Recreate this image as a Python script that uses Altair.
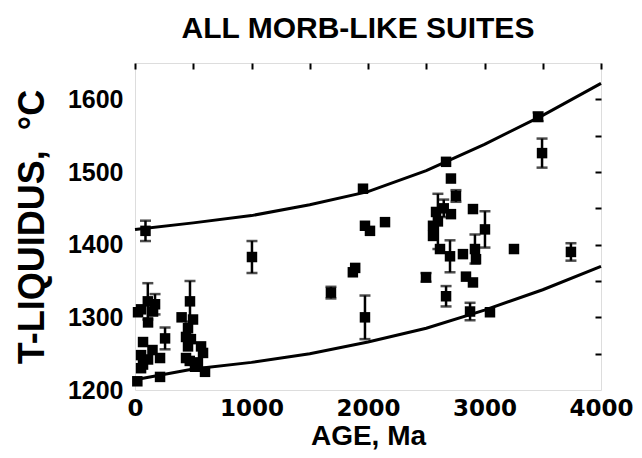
import altair as alt
import pandas as pd

TITLE = "ALL MORB-LIKE SUITES"
X_TITLE = "AGE, Ma"
Y_TITLE = "T-LIQUIDUS,\u00a0 °C"

# envelope curves
curve_age = [0, 500, 1000, 1500, 2000, 2500, 3000, 3500, 4000]
upper_temp = [1421, 1430, 1440, 1455, 1473, 1502, 1538, 1578, 1622]
lower_temp = [1214, 1229, 1238, 1250, 1266, 1285, 1310, 1338, 1370]

# data points (age Ma, T-liquidus C, half error bar; 0 = no error bar)
ages = [20, 26, 52, 110, 172, 155, 112, 69, 258, 52, 112, 215, 52, 215, 69, 150, 90,
        472, 400, 498, 438, 455, 584, 567, 438, 515, 601, 455, 470, 480, 540,
        1004, 1682, 1870, 1890, 1957, 1974, 2017, 2146, 1974,
        2670, 2712, 2755, 2600, 2584, 2712, 2901, 2558, 2558, 3004, 2618, 2704, 2815,
        2918, 2927, 2498, 2841, 2901, 2670, 2876, 3047, 3460, 3494, 3253, 3742, 2650]
temps = [1212, 1307, 1311, 1322, 1318, 1308, 1293, 1266, 1271, 1248, 1242, 1244, 1230, 1218, 1235, 1255, 1419,
         1322, 1300, 1297, 1273, 1260, 1251, 1260, 1244, 1232, 1225, 1285, 1240, 1270, 1238,
         1383, 1334, 1362, 1368, 1477, 1426, 1419, 1431, 1300,
         1514, 1491, 1467, 1432, 1445, 1442, 1449, 1426, 1412, 1421, 1394, 1384, 1387,
         1394, 1380, 1355, 1356, 1348, 1329, 1308, 1307, 1576, 1526, 1394, 1390, 1450]
errs = [0, 0, 0, 25, 14, 0, 0, 0, 15, 0, 0, 0, 0, 0, 0, 0, 14,
        28, 0, 0, 0, 0, 0, 0, 0, 0, 0, 0, 0, 0, 0,
        22, 8, 0, 0, 0, 0, 0, 0, 30,
        0, 0, 8, 38, 0, 0, 0, 0, 0, 25, 0, 22, 0,
        20, 0, 6, 0, 0, 14, 12, 0, 6, 20, 0, 12, 12]

x_label_values = [0, 1000, 2000, 3000, 4000]
y_label_values = [1200, 1300, 1400, 1500, 1600]
x_tick_values = [0, 500, 1000, 1500, 2000, 2500, 3000, 3500, 4000]
y_tick_values = [1250, 1300, 1350, 1400, 1450, 1500, 1550, 1600]

FONT = "Liberation Sans"

pts = pd.DataFrame({"age": ages, "temp": temps, "err": errs})
pts["lo"] = pts["temp"] - pts["err"]
pts["hi"] = pts["temp"] + pts["err"]
eb = pts[pts["err"] > 0]

curves = pd.DataFrame({
    "age": curve_age + curve_age,
    "temp": upper_temp + lower_temp,
    "curve": ["upper"] * len(curve_age) + ["lower"] * len(curve_age),
})

xs = alt.Scale(domain=[0, 4000], nice=False, zero=False)
ys = alt.Scale(domain=[1200, 1650], nice=False, zero=False)

x_label_axis = alt.Axis(
    title=X_TITLE, values=x_label_values, format="d", domain=False, ticks=False, grid=False,
    labelFont="DejaVu Sans", labelFontSize=23, labelFontWeight="bold", labelColor="black",
    labelPadding=7, labelFlush=False, labelOverlap=False,
    titleFont=FONT, titleFontSize=28, titleFontWeight="bold", titleColor="black", titlePadding=2,
)
y_label_axis = alt.Axis(
    title=Y_TITLE, values=y_label_values, format="d", domain=False, ticks=False, grid=False,
    labelFont=FONT, labelFontSize=25, labelFontWeight="bold", labelColor="black",
    labelPadding=12, labelFlush=False, labelOverlap=False,
    titleFont=FONT, titleFontSize=36, titleFontWeight="bold", titleColor="black", titlePadding=16,
)
x_tick_axis = alt.Axis(
    title=None, labels=False, domain=False, grid=False, values=x_tick_values,
    tickSize=6, tickWidth=2, tickColor="black", offset=-6,
)
y_tick_axis = alt.Axis(
    title=None, labels=False, domain=False, grid=False, values=y_tick_values,
    tickSize=6, tickWidth=2, tickColor="black", offset=-6,
)

squares = alt.Chart(pts).mark_square(size=110, color="black", opacity=1, filled=True).encode(
    x=alt.X("age:Q", scale=xs, axis=x_label_axis),
    y=alt.Y("temp:Q", scale=ys, axis=y_label_axis),
)

lines = alt.Chart(curves).mark_line(color="black", strokeWidth=3).encode(
    x=alt.X("age:Q", scale=xs, axis=x_tick_axis),
    y=alt.Y("temp:Q", scale=ys, axis=y_tick_axis),
    detail="curve:N",
)

bars = alt.Chart(eb).mark_rule(color="black", strokeWidth=2.5).encode(
    x=alt.X("age:Q", scale=xs, axis=None),
    y=alt.Y("lo:Q", scale=ys, axis=None),
    y2="hi:Q",
)
cap_lo = alt.Chart(eb).mark_tick(color="black", orient="horizontal", size=11, thickness=2.5).encode(
    x=alt.X("age:Q", scale=xs, axis=None),
    y=alt.Y("lo:Q", scale=ys, axis=None),
)
cap_hi = alt.Chart(eb).mark_tick(color="black", orient="horizontal", size=11, thickness=2.5).encode(
    x=alt.X("age:Q", scale=xs, axis=None),
    y=alt.Y("hi:Q", scale=ys, axis=None),
)

chart = alt.layer(squares, lines, bars, cap_lo, cap_hi).resolve_axis(
    x="independent", y="independent"
).properties(
    width=466,
    height=327,
    autosize=alt.AutoSizeParams(type="none"),
    padding={"left": 127, "top": 55, "right": 33, "bottom": 60},
    title=alt.TitleParams(TITLE, font=FONT, fontSize=30, fontWeight="bold", anchor="middle",
                          offset=18, dx=-10, color="black"),
).configure_view(
    stroke="black", strokeWidth=3
).configure(background="white")

chart.save("out.html", embed_options={"renderer": "svg", "actions": False})
